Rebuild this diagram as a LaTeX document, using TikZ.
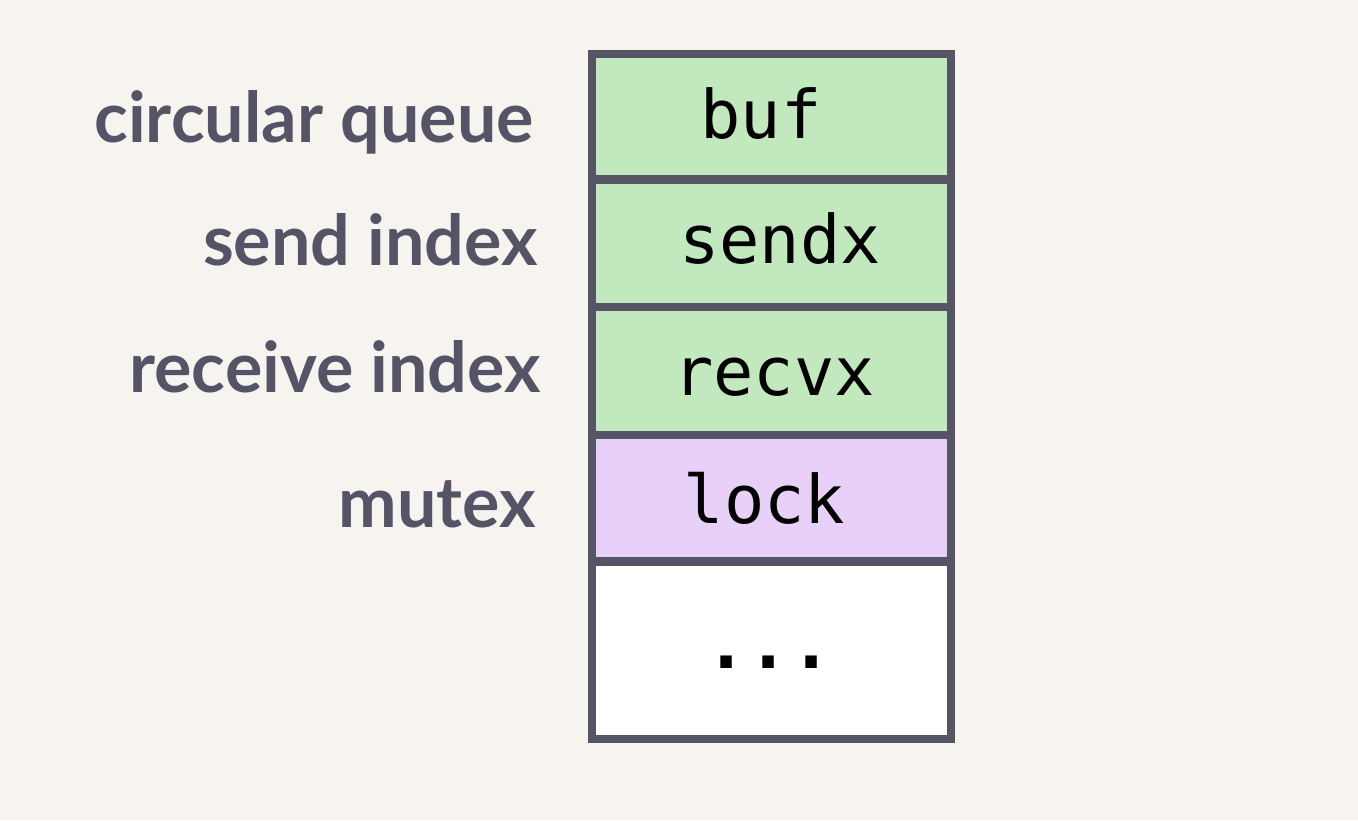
\documentclass[tikz,border=0pt]{standalone}
\usepackage{fontspec}
\setmainfont{Lato}
\newfontfamily\labelfont{Lato Bold}
\newfontfamily\monofont{DejaVu Sans Mono}
\newfontfamily\monoboldfont{DejaVu Sans Mono Bold}
\definecolor{bgc}{HTML}{F7F4EF}
\definecolor{edgec}{HTML}{555566}
\definecolor{greenc}{HTML}{C2E9BE}
\definecolor{lilac}{HTML}{E8D0F8}
\definecolor{labc}{HTML}{545466}
\tikzset{
  cell/.style={draw=edgec, line width=8.5bp, rectangle, inner sep=0pt, outer sep=0pt,
    minimum width=359bp, anchor=north west},
  mono/.style={font=\monofont\fontsize{67bp}{70bp}\selectfont, text=black, inner sep=0pt, anchor=base},
  lab/.style={font=\labelfont\fontsize{70bp}{74bp}\selectfont, text=labc, inner sep=0pt, anchor=base east}
}
\begin{document}
\begin{tikzpicture}[x=1bp,y=-1bp]
\fill[bgc] (0,0) rectangle (1358,820);
\useasboundingbox (0,0) rectangle (1358,820);
% cells
\node[cell, fill=greenc, minimum height=125.5bp] (cbuf) at (592,54) {};
\node[cell, fill=greenc, minimum height=127.5bp] (csend) at (592,179.5) {};
\node[cell, fill=greenc, minimum height=128bp] (crecv) at (592,307) {};
\node[cell, fill=lilac, minimum height=126.5bp] (clock) at (592,435) {};
\node[cell, fill=white, minimum height=177.5bp] (cmore) at (592,561.5) {};
% field names
\node[mono] (tbuf) at (761,138) {buf};
\node[mono] (tsend) at (780,263) {sendx};
\node[mono] (trecv) at (774,395) {recvx};
\node[mono] (tlock) at (764.5,523) {lock};
\node[mono, font=\monoboldfont\fontsize{70bp}{72bp}\selectfont] (tmore) at (769,668) {...};
% labels
\node[lab] (lq) at (534,142) {circular queue};
\node[lab] (ls) at (538,265) {send index};
\node[lab] (lr) at (541,392) {receive index};
\node[lab] (lm) at (536,527) {mutex};
\end{tikzpicture}
\end{document}
